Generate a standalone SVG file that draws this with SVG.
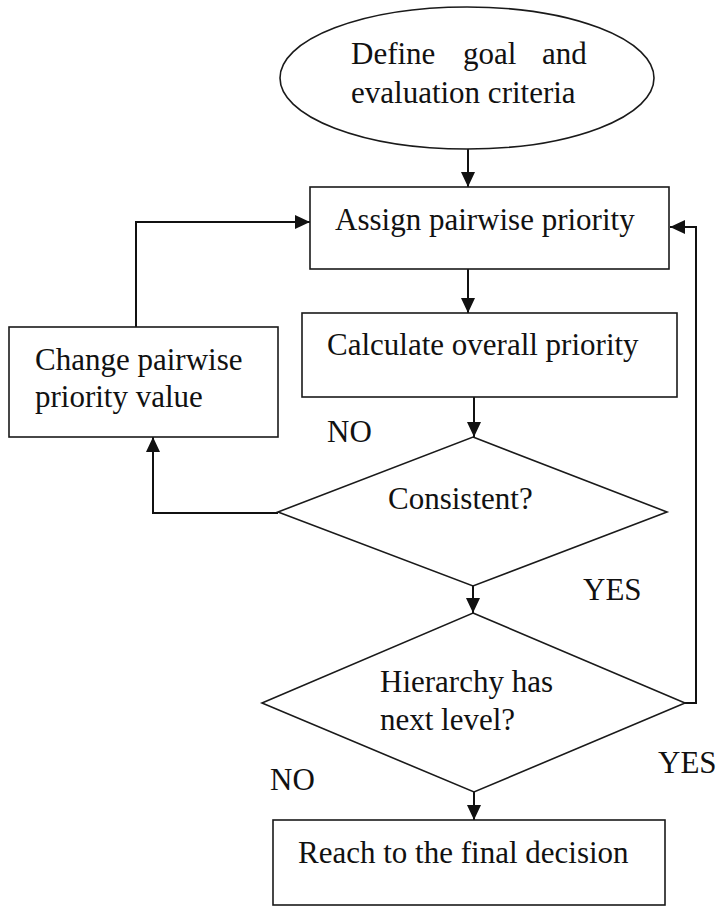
<svg xmlns="http://www.w3.org/2000/svg" width="717" height="907" viewBox="0 0 717 907">
  <style>
    .shape { fill: #ffffff; stroke: #1a1a1a; stroke-width: 1.6; }
    .label { font-family: "Liberation Serif", "Times New Roman", serif; font-size: 31px; fill: #111111; }
    .link { fill: none; stroke: #111111; stroke-width: 2; }
  </style>
  <defs>
    <marker id="arrow" viewBox="0 0 15 14" refX="15" refY="7" markerWidth="15" markerHeight="14" markerUnits="userSpaceOnUse" orient="auto">
      <path d="M0,0 L15,7 L0,14 z" fill="#111111"/>
    </marker>
  </defs>
  <rect width="717" height="907" fill="#ffffff"/>

  <g id="connectors">
    <!-- goal -> assign -->
    <line class="link" x1="468" y1="148" x2="468" y2="187" marker-end="url(#arrow)"/>
    <!-- assign -> calculate -->
    <line class="link" x1="468" y1="269" x2="468" y2="313" marker-end="url(#arrow)"/>
    <!-- calculate -> consistent -->
    <line class="link" x1="474" y1="397" x2="474" y2="437" marker-end="url(#arrow)"/>
    <!-- consistent (NO) -> change value -->
    <polyline class="link" points="278,513 153,513 153,437" marker-end="url(#arrow)"/>
    <!-- change value -> assign -->
    <polyline class="link" points="136,327 136,222 310,222" marker-end="url(#arrow)"/>
    <!-- consistent (YES) -> hierarchy -->
    <line class="link" x1="473" y1="586" x2="473" y2="613" marker-end="url(#arrow)"/>
    <!-- hierarchy (YES) -> assign -->
    <polyline class="link" points="685,703 696,703 696,227 670,227" marker-end="url(#arrow)"/>
    <!-- hierarchy (NO) -> final decision -->
    <line class="link" x1="474" y1="792" x2="474" y2="820" marker-end="url(#arrow)"/>
  </g>

  <g id="goal">
    <ellipse class="shape" cx="467" cy="78" rx="187" ry="71"/>
    <text class="label" x="351" y="64">Define</text>
    <text class="label" x="463" y="64">goal</text>
    <text class="label" x="542" y="64">and</text>
    <text class="label" x="351" y="103">evaluation criteria</text>
  </g>

  <g id="assign">
    <rect class="shape" x="310" y="187" width="359" height="82"/>
    <text class="label" x="335" y="230">Assign pairwise priority</text>
  </g>

  <g id="calculate">
    <rect class="shape" x="302" y="313" width="375" height="84"/>
    <text class="label" x="327" y="355">Calculate overall priority</text>
  </g>

  <g id="change">
    <rect class="shape" x="9" y="327" width="269" height="110"/>
    <text class="label" x="35" y="370">Change pairwise</text>
    <text class="label" x="35" y="407">priority value</text>
  </g>

  <g id="consistent">
    <polygon class="shape" points="473,437 667,512 473,586 278,512"/>
    <text class="label" x="388" y="509">Consistent?</text>
  </g>

  <g id="hierarchy">
    <polygon class="shape" points="473,613 685,703 474,792 262,703"/>
    <text class="label" x="380" y="692">Hierarchy has</text>
    <text class="label" x="380" y="730">next level?</text>
  </g>

  <g id="decision">
    <rect class="shape" x="273" y="820" width="392" height="85"/>
    <text class="label" x="298" y="863">Reach to the final decision</text>
  </g>

  <g id="branch-labels">
    <text class="label" x="327" y="442">NO</text>
    <text class="label" x="583" y="600">YES</text>
    <text class="label" x="658" y="773">YES</text>
    <text class="label" x="270" y="790">NO</text>
  </g>
</svg>
